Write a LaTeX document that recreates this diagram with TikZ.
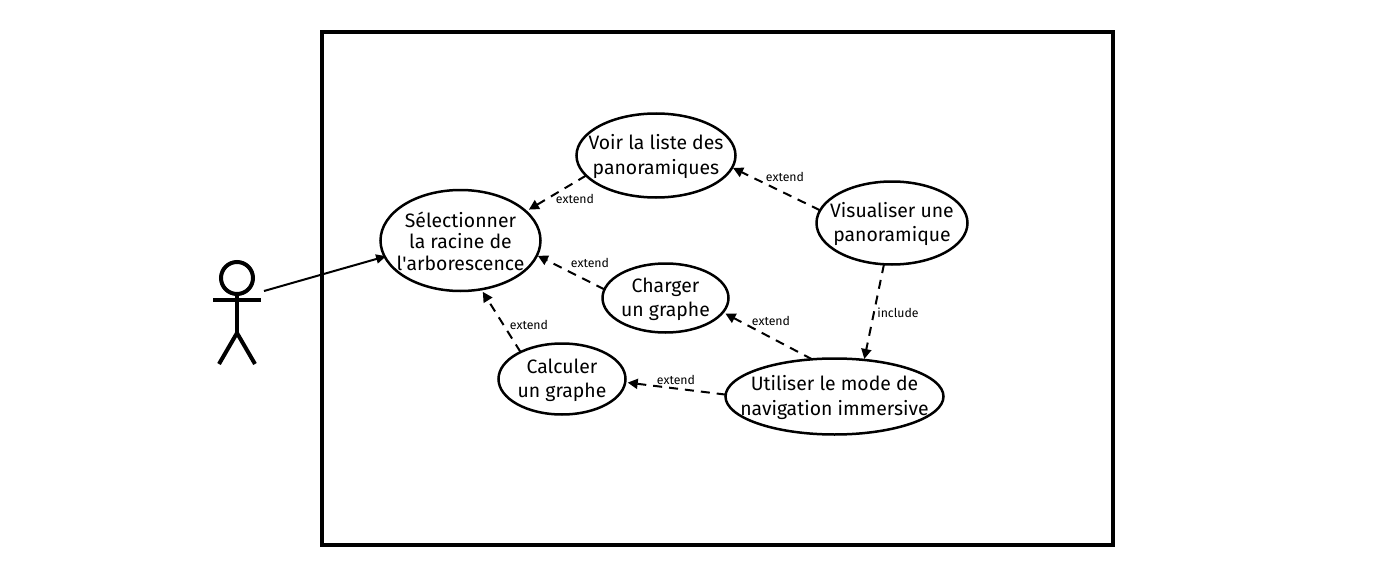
\documentclass[tikz,border=0pt]{standalone}
\usepackage{fontspec}
\setmainfont{Fira Sans}
\usetikzlibrary{shapes.geometric,arrows.meta}
\tikzset{
  usecase/.style={ellipse,draw=black,line width=2.5pt,inner sep=0pt,outer sep=0pt},
  casetext/.style={align=center,inner sep=0pt,yshift=-1.2pt,font=\fontsize{19.4}{24.5}\selectfont},
  casetextb/.style={align=center,inner sep=0pt,yshift=-0.5pt,font=\fontsize{19.4}{21.5}\selectfont},
  rel/.style={line width=2pt,dash pattern=on 9pt off 7pt,-{Triangle[length=10pt,width=10pt]},shorten >=1pt},
  assoc/.style={line width=2pt,-{Triangle[length=10pt,width=9pt]},shorten >=-1.5pt},
  rellabel/.style={inner sep=0pt,font=\fontsize{12.3}{14}\selectfont},
  limb/.style={line width=4pt},
}
\begin{document}
\begin{tikzpicture}[x=1pt,y=-1pt]
\useasboundingbox (0,0) rectangle (1377,578);
\node[draw=black,line width=4pt,minimum width=791pt,minimum height=513pt,inner sep=0pt] (system) at (717.5,288.5) {};

\node[usecase,minimum width=160pt,minimum height=101pt,label={[casetextb]center:Sélectionner\\la racine de\\l\textquotesingle arborescence}] (sel) at (460.5,240.5) {};
\node[usecase,minimum width=159pt,minimum height=84pt,label={[casetext]center:Voir la liste des\\panoramiques}] (voir) at (656,155.5) {};
\node[usecase,minimum width=151pt,minimum height=83pt,label={[casetext]center:Visualiser une\\panoramique}] (vis) at (892,223) {};
\node[usecase,minimum width=126pt,minimum height=69pt,label={[casetext]center:Charger\\un graphe}] (charger) at (665.5,298) {};
\node[usecase,minimum width=127pt,minimum height=71pt,label={[casetext]center:Calculer\\un graphe}] (calc) at (562,379) {};
\node[usecase,minimum width=218pt,minimum height=76pt,label={[casetext]center:Utiliser le mode de\\navigation immersive}] (util) at (834.5,396.5) {};

% actor
\node[circle,draw=black,line width=4pt,minimum size=32pt,inner sep=0pt,outer sep=0pt] (head) at (237,278) {};
\coordinate (arml) at (213,300);
\coordinate (armr) at (261,300);
\coordinate (hip) at (237,333);
\coordinate (legl) at (219,364);
\coordinate (legr) at (255,364);
\coordinate (hand) at (264,291);
\draw[limb] (head.south) -- (hip);
\draw[limb] (arml) -- (armr);
\draw[limb] (legl) -- (hip) -- (legr);

\draw[assoc] (hand) -- (sel.192);
\draw[rel,shorten >=3.5pt] (voir.196.3) -- (sel.24);
\draw[rel] (vis.170.7) -- (voir.-9.1);
\draw[rel] (vis.259) -- (util.51.6);
\draw[rel,shorten >=3pt] (util.121.4) -- (charger.-14.8);
\draw[rel,shorten >=2.5pt] (util.179.2) -- (calc.-3.5);
\draw[rel] (charger.172.8) -- (sel.-11.4);
\draw[rel,shorten >=3pt] (calc.147.5) -- (sel.-67);

\node[rellabel] (l1) at (575,199) {extend};
\node[rellabel] (l2) at (785,177) {extend};
\node[rellabel] (l3) at (590,263) {extend};
\node[rellabel] (l4) at (529,325) {extend};
\node[rellabel] (l5) at (771,321) {extend};
\node[rellabel] (l6) at (676,380) {extend};
\node[rellabel] (l7) at (898,313) {include};
\end{tikzpicture}
\end{document}
